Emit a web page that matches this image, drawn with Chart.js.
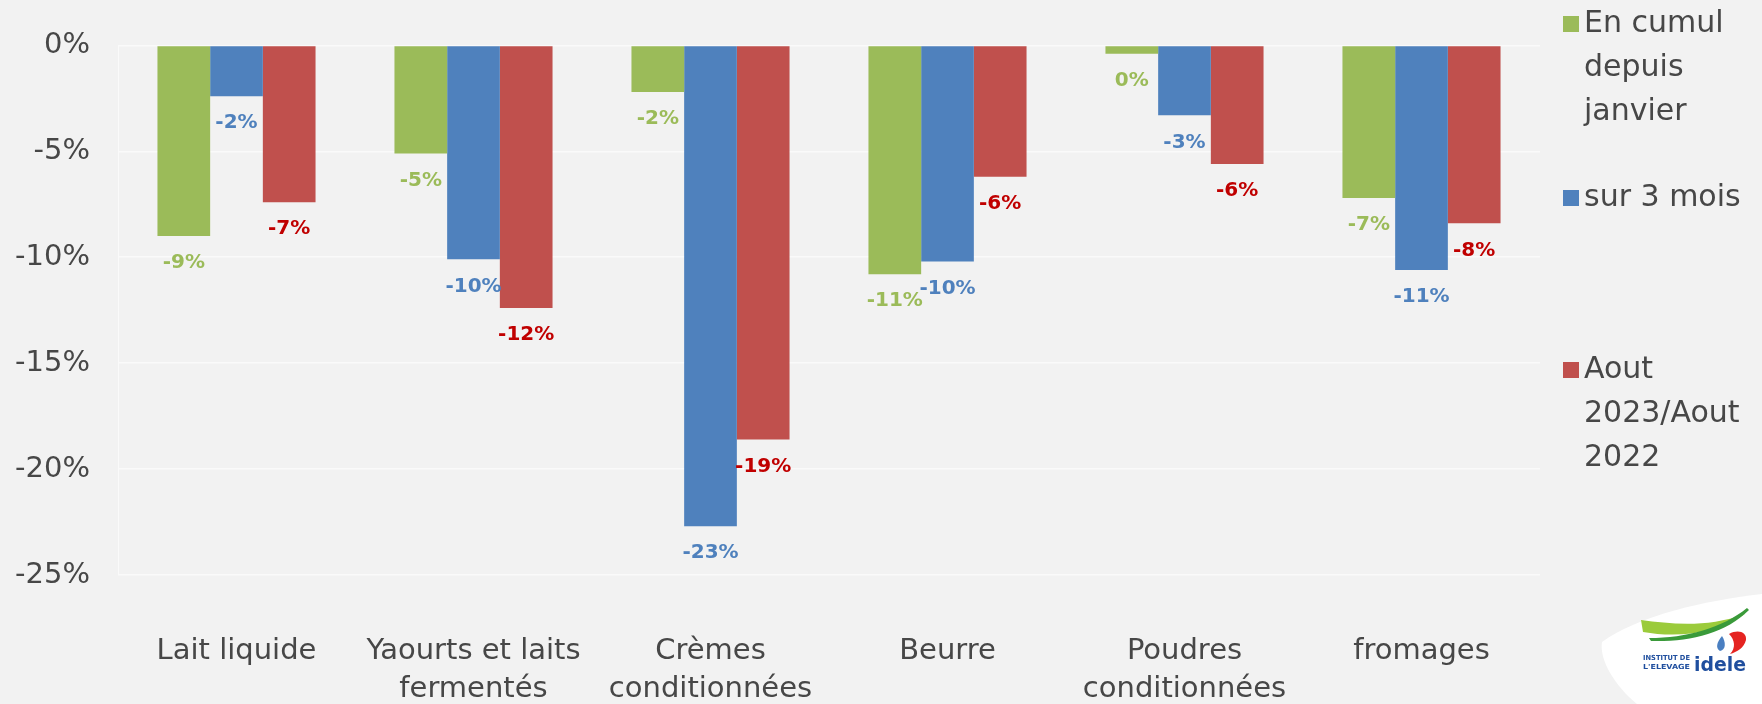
<!DOCTYPE html>
<html lang="fr">
<head>
<meta charset="utf-8">
<script src="https://cdn.jsdelivr.net/npm/chart.js@4/dist/chart.umd.min.js"></script>
<style>
    html, body { margin: 0; padding: 0; background: #F2F2F2; }
    #wrap { position: relative; width: 1762px; height: 704px; }
    #logo { position: absolute; right: 0; bottom: 0; }
</style>
</head>
<body>
<div id="wrap">
    <canvas id="chart" width="1762" height="704"></canvas>
    <svg id="logo" width="165" height="110" viewBox="0 0 165 110">
        <path d="M5 48 C 40 22, 110 6, 165 0 L 165 110 L 40 110 C 18 92, 2 66, 5 48 Z" fill="#FFFFFF"/>
        <path d="M44 26 C 75 30, 110 34, 148 20 C 120 40, 80 44, 46 38 Z" fill="#9BCB3B"/>
        <path d="M52 44 C 90 44, 125 34, 150 14 L 152 16 C 128 40, 92 48, 54 47 Z" fill="#3A9A3A"/>
        <path d="M125 42 C 120 48, 118 54, 123 57 C 129 56, 129 48, 125 42 Z" fill="#4A7FC1"/>
        <path d="M132 40 C 141 35, 150 38, 149 46 C 147 54, 140 58, 133 60 C 139 54, 138 46, 132 40 Z" fill="#E52421"/>
        <text x="46" y="66" font-family="DejaVu Sans" font-weight="bold" font-size="7" textLength="47" lengthAdjust="spacingAndGlyphs" fill="#1F4E9E">INSTITUT DE</text>
        <text x="46" y="75" font-family="DejaVu Sans" font-weight="bold" font-size="7" textLength="47" lengthAdjust="spacingAndGlyphs" fill="#1F4E9E">L'ELEVAGE</text>
        <text x="97" y="77" font-family="DejaVu Sans" font-weight="bold" font-size="20" textLength="52" lengthAdjust="spacingAndGlyphs" fill="#1F4E9E">idele</text>
    </svg>
</div>
<script>
const categories = [
    ['Lait liquide'],
    ['Yaourts et laits', 'fermentés'],
    ['Crèmes', 'conditionnées'],
    ['Beurre'],
    ['Poudres', 'conditionnées'],
    ['fromages']
];
const cumulJanvier = [-9.0, -5.1, -2.2, -10.8, -0.4, -7.2];
const sur3Mois = [-2.4, -10.1, -22.7, -10.2, -3.3, -10.6];
const aout2023 = [-7.4, -12.4, -18.6, -6.2, -5.6, -8.4];
const seriesNames = [['En cumul', 'depuis', 'janvier'], ['sur 3 mois'], ['Aout', '2023/Aout', '2022']];
const yTicks = [0, -5, -10, -15, -20, -25];

const FONT = '"DejaVu Sans", sans-serif';
const TEXT = '#474747';

// value labels under each bar end
const valueLabels = {
    id: 'valueLabels',
    afterDatasetsDraw(chart) {
        const ctx = chart.ctx;
        ctx.save();
        ctx.font = 'bold 20px ' + FONT;
        ctx.textAlign = 'center';
        ctx.textBaseline = 'middle';
        chart.data.datasets.forEach((ds, di) => {
            const meta = chart.getDatasetMeta(di);
            meta.data.forEach((bar, i) => {
                const v = Math.round(ds.data[i]);
                ctx.fillStyle = ds.labelColor;
                ctx.fillText(`${v === 0 ? 0 : v}%`, bar.x, bar.y + 27);
            });
        });
        ctx.restore();
    }
};

// legend on the right, with wrapped names
const sideLegend = {
    id: 'sideLegend',
    afterDraw(chart) {
        const ctx = chart.ctx;
        const x = 1563;
        const starts = [24, 198, 370];
        ctx.save();
        ctx.font = '30px ' + FONT;
        ctx.textBaseline = 'middle';
        chart.data.datasets.forEach((ds, di) => {
            ctx.fillStyle = ds.backgroundColor;
            ctx.fillRect(x, starts[di] - 8, 16, 16);
            ctx.fillStyle = TEXT;
            seriesNames[di].forEach((line, li) => {
                ctx.fillText(line, x + 21, starts[di] + li * 44);
            });
        });
        ctx.restore();
    }
};

new Chart(document.getElementById('chart'), {
    type: 'bar',
    data: {
        labels: categories,
        datasets: [
            { label: 'En cumul depuis janvier', data: cumulJanvier, backgroundColor: '#9BBB59', labelColor: '#9BBB59' },
            { label: 'sur 3 mois', data: sur3Mois, backgroundColor: '#4F81BD', labelColor: '#4F81BD' },
            { label: 'Aout 2023/Aout 2022', data: aout2023, backgroundColor: '#C0504D', labelColor: '#C00000' }
        ]
    },
    options: {
        responsive: false,
        animation: false,
        layout: { padding: { top: 45, right: 222, bottom: 0, left: 0 } },
        datasets: { bar: { categoryPercentage: 0.667, barPercentage: 1.0 } },
        plugins: {
            legend: { display: false },
            tooltip: { enabled: false }
        },
        scales: {
            x: {
                position: 'bottom',
                grid: { display: false, drawTicks: false },
                border: { display: false },
                ticks: { color: TEXT, font: { family: FONT, size: 29, lineHeight: 1.33 }, padding: 57, maxRotation: 0, autoSkip: false },
                afterFit: (s) => { s.height = 129; }
            },
            y: {
                min: -25,
                max: 0,
                afterBuildTicks: (s) => { s.ticks = yTicks.map(v => ({ value: v })); },
                grid: { color: '#FAFAFA', lineWidth: 1.5, drawTicks: false },
                border: { display: true, color: '#FAFAFA', width: 1 },
                ticks: {
                    color: TEXT,
                    font: { family: FONT, size: 29 },
                    padding: 28,
                    callback: (v) => v + '%'
                },
                afterFit: (s) => { s.width = 118; }
            }
        }
    },
    plugins: [valueLabels, sideLegend]
});
</script>
</body>
</html>
